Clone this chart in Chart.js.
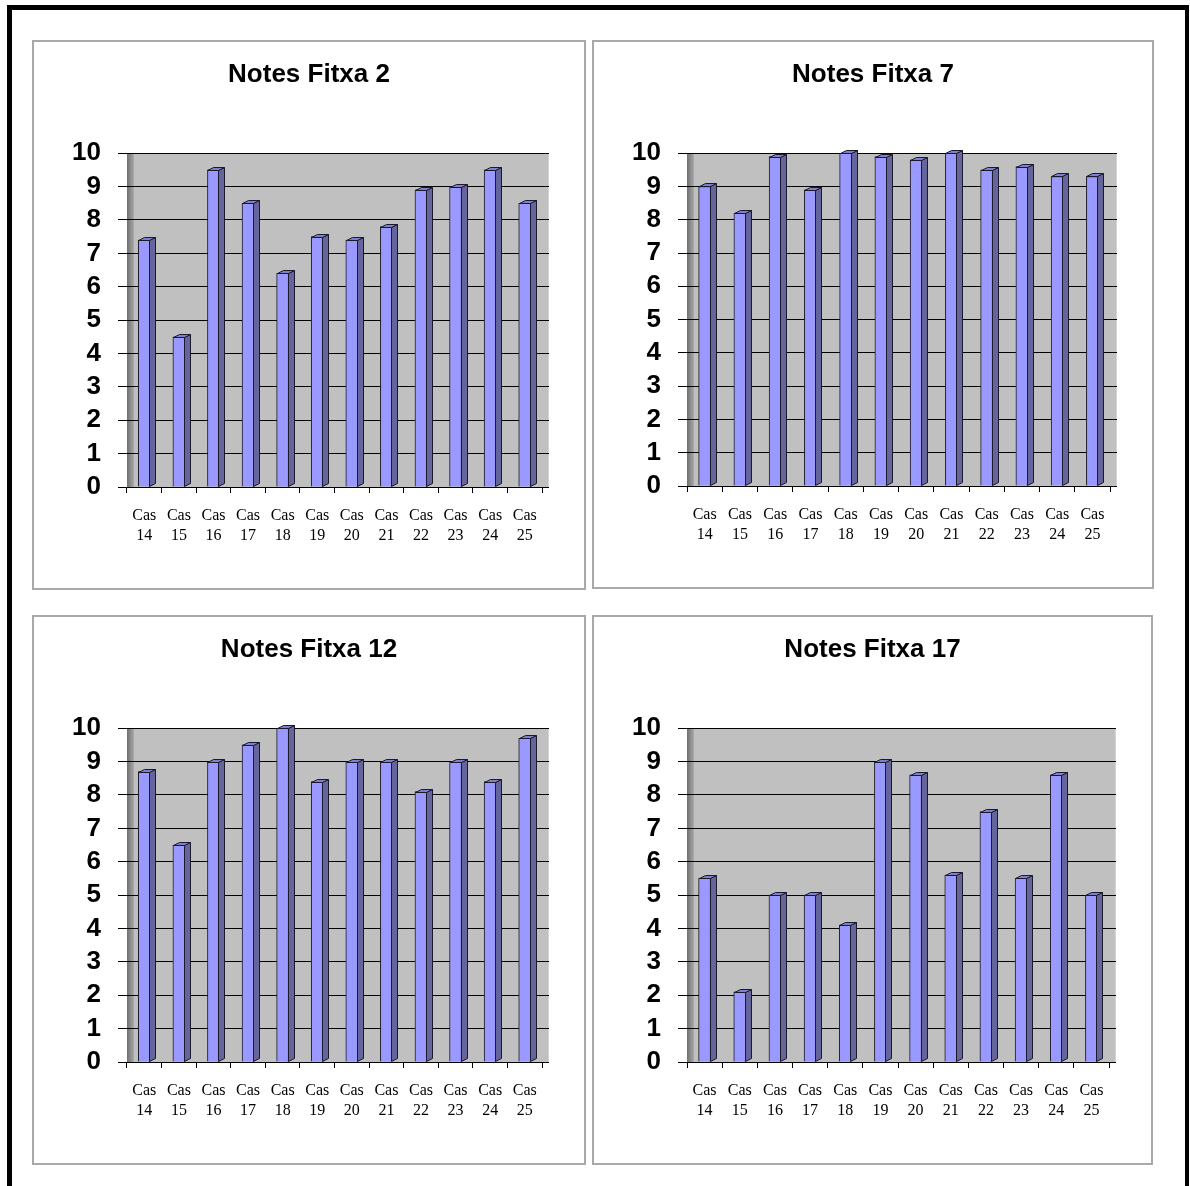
<!DOCTYPE html>
<html>
<head>
<meta charset="utf-8">
<title>Notes Fitxa</title>
<script src="https://cdn.jsdelivr.net/npm/chart.js@4.4.1/dist/chart.umd.min.js"></script>
<style>
  html, body { margin: 0; padding: 0; background: #fff; }
  body { width: 1190px; height: 1186px; position: relative; overflow: hidden; }
  .frame {
    position: absolute; left: 7px; top: 5px; width: 1182px; height: 1240px;
    border-top: 5px solid #000; border-left: 5px solid #000; border-right: 4px solid #000;
    box-sizing: border-box;
  }
  .panel { position: absolute; border: 2px solid #a9a9a9; box-sizing: border-box; background: #fff; }
  .panel canvas { display: block; }
</style>
</head>
<body>
<div class="frame"></div>
<div class="panel" style="left:32px;top:40px;width:554px;height:550px"><canvas id="c1" width="550" height="546"></canvas></div>
<div class="panel" style="left:592px;top:40px;width:562px;height:549px"><canvas id="c2" width="558" height="545"></canvas></div>
<div class="panel" style="left:32px;top:615px;width:554px;height:550px"><canvas id="c3" width="550" height="546"></canvas></div>
<div class="panel" style="left:592px;top:615px;width:561px;height:550px"><canvas id="c4" width="557" height="546"></canvas></div>

<script>
// Case numbers shown on the category axis
const caseNumbers = ['14', '15', '16', '17', '18', '19', '20', '21', '22', '23', '24', '25'];
const categories = caseNumbers.map(n => ['Cas', n]);

// Marks per worksheet (fitxa)
const fitxa2  = [7.4, 4.5, 9.5, 8.5, 6.4, 7.5, 7.4, 7.8, 8.9, 9.0, 9.5, 8.5];
const fitxa7  = [9.0, 8.2, 9.9, 8.9, 10, 9.9, 9.8, 10, 9.5, 9.6, 9.3, 9.3];
const fitxa12 = [8.7, 6.5, 9.0, 9.5, 10, 8.4, 9.0, 9.0, 8.1, 9.0, 8.4, 9.7];
const fitxa17 = [5.5, 2.1, 5.0, 5.0, 4.1, 9.0, 8.6, 5.6, 7.5, 5.5, 8.6, 5.0];

// Value axis range
const yMin = 0;
const yMax = 10;
const yStep = 1;

const charts = [
  { id: 'c1', title: 'Notes Fitxa 2',  values: fitxa2 },
  { id: 'c2', title: 'Notes Fitxa 7',  values: fitxa7 },
  { id: 'c3', title: 'Notes Fitxa 12', values: fitxa12 },
  { id: 'c4', title: 'Notes Fitxa 17', values: fitxa17 }
];

// Pseudo-3D look: grey back wall, shaded side wall, and bar side/top faces
const WALL_DEPTH = 7;
const BAR_DX = 6;
const BAR_DY = 3;

// same rounding Chart.js applies to 1px grid lines
const alignPx = p => Math.round(p - 0.5) + 0.5;

const box3d = {
  id: 'box3d',
  beforeDraw(chart) {
    const { ctx, chartArea: a } = chart;
    ctx.save();
    ctx.fillStyle = '#c0c0c0';
    ctx.fillRect(a.left, a.top, a.right - a.left + WALL_DEPTH, a.bottom - a.top);
    // light edge on the right side of the back wall
    ctx.fillStyle = '#d4d4d4';
    ctx.fillRect(a.right + WALL_DEPTH - 1, a.top, 1, a.bottom - a.top);
    // side wall on the left
    const g = ctx.createLinearGradient(a.left, 0, a.left + 7, 0);
    g.addColorStop(0, '#6f6f6f');
    g.addColorStop(1, '#a9a9a9');
    ctx.fillStyle = g;
    ctx.fillRect(a.left, a.top, 7, a.bottom - a.top);
    ctx.restore();
  },
  beforeDatasetsDraw(chart) {
    const { ctx, chartArea: a, scales: { y } } = chart;
    ctx.save();
    ctx.strokeStyle = '#000';
    ctx.lineWidth = 1;
    y.ticks.forEach(t => {
      const py = alignPx(y.getPixelForValue(t.value));
      ctx.beginPath();
      ctx.moveTo(a.right - 1, py);
      ctx.lineTo(a.right + WALL_DEPTH, py);
      ctx.stroke();
    });
    ctx.restore();
  },
  afterDatasetsDraw(chart) {
    const { ctx } = chart;
    ctx.save();
    ctx.lineWidth = 1;
    ctx.strokeStyle = '#1a1a2a';
    ctx.lineJoin = 'miter';
    chart.getDatasetMeta(0).data.forEach(bar => {
      const { x, y, base, width } = bar.getProps(['x', 'y', 'base', 'width'], true);
      const l = Math.round(x - width / 2) + 0.5;
      const r = Math.round(x + width / 2) - 0.5;
      const top = Math.round(y) + 0.5;
      const bot = Math.round(base) - 0.5;
      // side face
      ctx.beginPath();
      ctx.moveTo(r, bot);
      ctx.lineTo(r, top);
      ctx.lineTo(r + BAR_DX, top - BAR_DY);
      ctx.lineTo(r + BAR_DX, bot - BAR_DY);
      ctx.closePath();
      ctx.fillStyle = '#65659c';
      ctx.fill();
      ctx.stroke();
      // top face
      ctx.beginPath();
      ctx.moveTo(l, top);
      ctx.lineTo(l + BAR_DX, top - BAR_DY);
      ctx.lineTo(r + BAR_DX, top - BAR_DY);
      ctx.lineTo(r, top);
      ctx.closePath();
      ctx.fillStyle = '#7f7fd0';
      ctx.fill();
      ctx.stroke();
    });
    ctx.restore();
  }
};

charts.forEach(cfg => {
  const canvas = document.getElementById(cfg.id);
  new Chart(canvas, {
    type: 'bar',
    data: {
      labels: categories,
      datasets: [{
        data: cfg.values,
        backgroundColor: '#9999ff',
        borderColor: '#1a1a2a',
        borderWidth: 1,
        borderSkipped: 'bottom',
        barThickness: 12
      }]
    },
    options: {
      responsive: false,
      animation: false,
      devicePixelRatio: 1,
      layout: { padding: 0 },
      plugins: {
        legend: { display: false },
        tooltip: { enabled: false },
        title: {
          display: true,
          text: cfg.title,
          color: '#000',
          font: { family: "'Liberation Sans', Arial, sans-serif", size: 26, weight: 'bold', lineHeight: 1.2 },
          padding: { top: 17, bottom: 63 }
        }
      },
      scales: {
        x: {
          offset: true,
          grid: {
            offset: true,
            drawOnChartArea: false,
            drawTicks: true,
            tickLength: 6,
            color: '#000'
          },
          border: { display: false },
          ticks: {
            color: '#000',
            padding: 12,
            maxRotation: 0,
            autoSkip: false,
            font: { family: "'Liberation Serif', 'Times New Roman', serif", size: 16, lineHeight: 1.3 }
          },
          afterFit(scale) { scale.height = 101; }
        },
        y: {
          min: yMin,
          max: yMax,
          grid: {
            color: '#000',
            lineWidth: 1,
            drawTicks: true,
            tickLength: 9
          },
          border: { display: false },
          ticks: {
            stepSize: yStep,
            autoSkip: false,
            color: '#000',
            padding: 17,
            font: { family: "'Liberation Sans', Arial, sans-serif", size: 26, weight: 'bold' }
          },
          afterFit(scale) { scale.width = 93; }
        },
        // blank margin on the right, holding the depth of the back wall
        yMargin: {
          position: 'right',
          display: true,
          grid: { display: false, drawTicks: false },
          border: { display: false },
          ticks: { display: false },
          afterFit(scale) { scale.width = 42; }
        }
      }
    },
    plugins: [box3d]
  });
});
</script>
</body>
</html>
